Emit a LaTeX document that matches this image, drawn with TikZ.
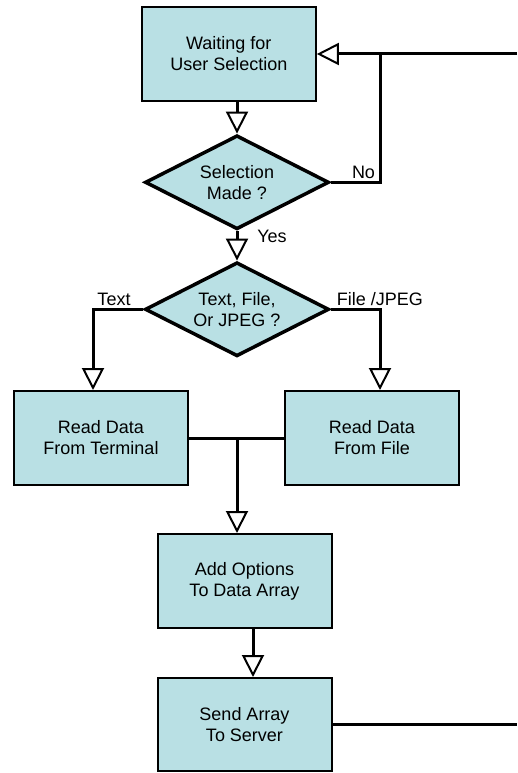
\documentclass[tikz,border=0pt]{standalone}
\usepackage{fontspec}
\setmainfont{Liberation Sans}
\usetikzlibrary{shapes.geometric,arrows.meta}
\definecolor{boxfill}{RGB}{185,224,228}
\begin{document}
\begin{tikzpicture}[x=1pt,y=-1pt,
  txt/.style={font=\fontsize{18}{21}\selectfont},
  proc/.style={txt, draw=black, line width=2pt, fill=boxfill, rectangle, inner sep=0pt, align=center},
  dec/.style={txt, draw=black, line width=3.5pt, fill=boxfill, diamond, aspect=2, inner sep=0pt, align=center, minimum width=184pt, minimum height=94pt},
  conn/.style={draw=black, line width=3pt},
  arr/.style={-{Triangle[open, fill=white, length=22pt, width=22pt, line width=2pt]}},
  lab/.style={txt, inner sep=0pt, anchor=base}]
\useasboundingbox (0,0) rectangle (517,773);
\node[proc, minimum width=174pt, minimum height=94pt] (wait) at (228.8,54) {Waiting for\\User Selection};
\node[dec] (d1) at (237,182.3) {Selection\\Made ?};
\node[dec] (d2) at (237,309.3) {Text, File,\\Or JPEG ?};
\node[proc, minimum width=174pt, minimum height=94pt] (rt) at (101,438) {Read Data\\From Terminal};
\node[proc, minimum width=174pt, minimum height=94pt] (rf) at (372,438) {Read Data\\From File};
\node[proc, minimum width=174pt, minimum height=94pt] (add) at (244.5,581) {Add Options\\To Data Array};
\node[proc, minimum width=174pt, minimum height=93pt] (send) at (244.5,724.5) {Send Array\\To Server};
\coordinate (inR) at (517,54);
\coordinate (noC) at (380,182.3);
\coordinate (tC) at (93,309.3);
\coordinate (fC) at (380,309.3);
\coordinate (jn) at (237,438);
\coordinate (outR) at (517,724.5);
\draw[conn, arr] (wait.south -| d1.north) -- (d1.north);
\draw[conn, arr] (inR) -- (wait.east);
\draw[conn] (d1.east) -- (noC) -- (noC |- inR);
\draw[conn, arr] (d1.south) -- (d2.north);
\draw[conn, arr] (d2.west) -- (tC) -- (tC |- rt.north);
\draw[conn, arr] (d2.east) -- (fC) -- (fC |- rf.north);
\draw[conn] (rt.east) -- (rf.west);
\draw[conn, arr] (jn) -- (jn |- add.north);
\draw[conn, arr] ([xshift=8.5pt]add.south) -- ([xshift=8.5pt]send.north);
\draw[conn] (send.east) -- (outR);
\node[lab] (lno) at (363.5,178) {No};
\node[lab] (lyes) at (272,242) {Yes};
\node[lab] (ltext) at (114,305) {Text};
\node[lab] (lfile) at (380,305) {File /JPEG};
\end{tikzpicture}
\end{document}
